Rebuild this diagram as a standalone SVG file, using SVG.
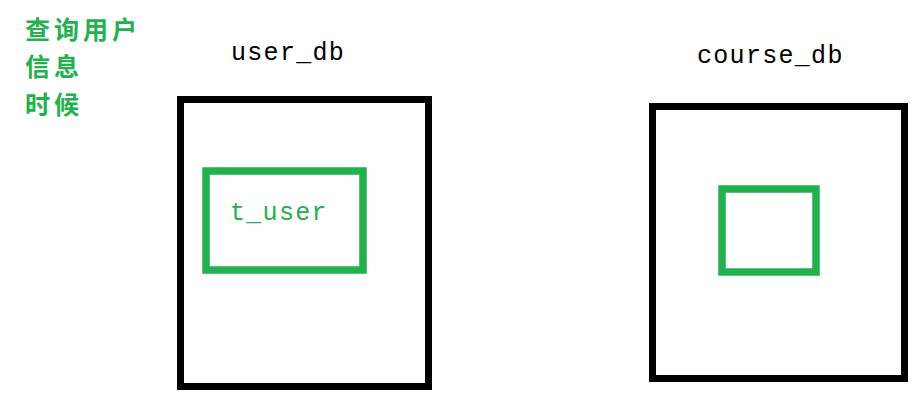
<svg xmlns="http://www.w3.org/2000/svg" width="923" height="413" viewBox="0 0 923 413">
<style>
.db{fill:none;stroke:#000;stroke-width:7}
.tb{fill:none;stroke:#22b14c;stroke-width:7.5}
.lbl{font-family:"Liberation Mono",monospace;font-size:25px;letter-spacing:1.3px}
.cn{font-family:"Noto Sans CJK SC",sans-serif;font-size:25px;font-weight:bold;fill:#22b14c;letter-spacing:4px}
</style>
<rect width="923" height="413" fill="#fff"/>
<g id="note">
<text class="cn" x="25" y="39">查询用户</text>
<text class="cn" x="25" y="76">信息</text>
<text class="cn" x="25" y="114">时候</text>
</g>
<g id="user_db">
<text class="lbl" x="231" y="60" fill="#000">user_db</text>
<rect class="db" x="180.5" y="99.5" width="248" height="287"/>
</g>
<g id="t_user">
<rect class="tb" x="206" y="171" width="157" height="99"/>
<text class="lbl" x="230" y="220" fill="#22b14c">t_user</text>
</g>
<g id="course_db">
<text class="lbl" x="697" y="63" fill="#000">course_db</text>
<rect class="db" x="652.5" y="106.5" width="252" height="272"/>
</g>
<g id="course_table">
<rect class="tb" x="722" y="189" width="94" height="83"/>
</g>
</svg>
